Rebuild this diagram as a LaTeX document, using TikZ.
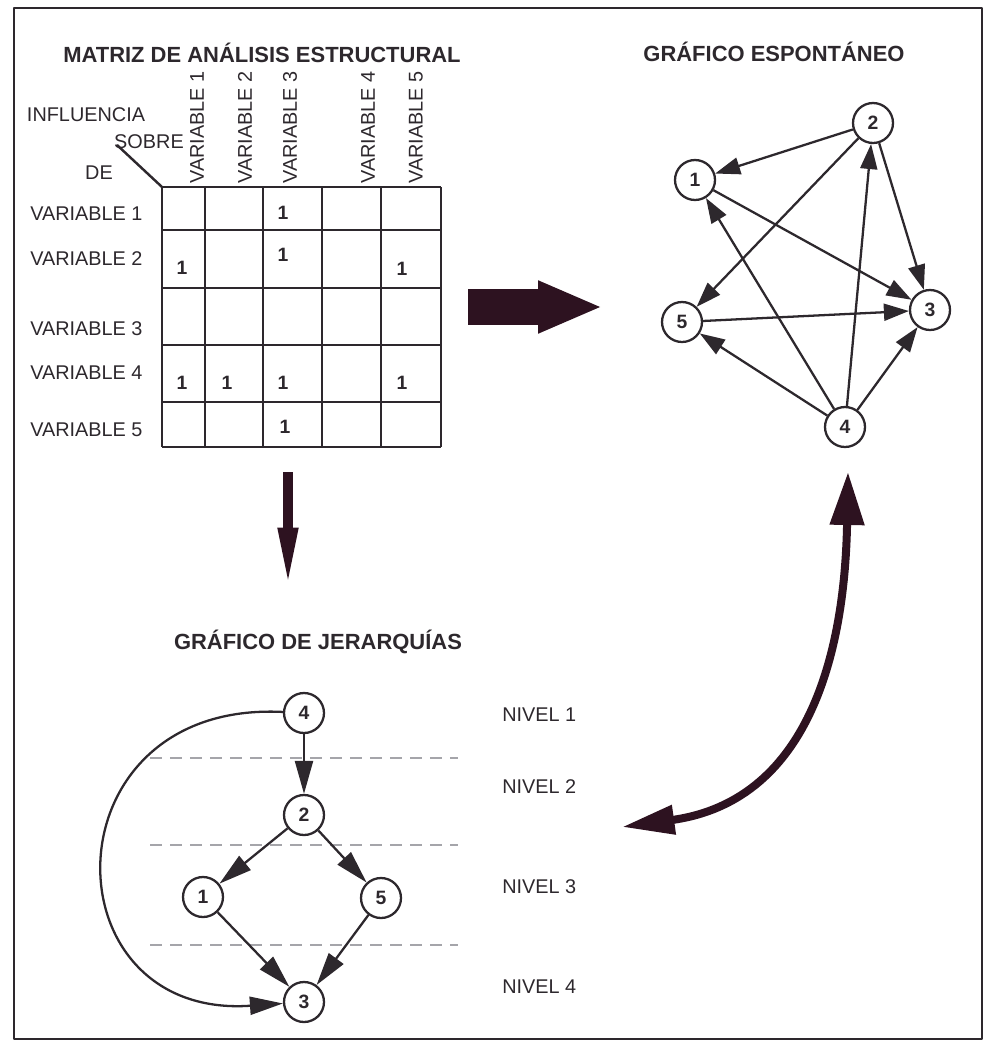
\documentclass[tikz,border=0pt]{standalone}
\usepackage{fontspec}
\setmainfont{Liberation Sans}
\usetikzlibrary{arrows.meta}
\definecolor{ink}{RGB}{45,40,45}
\definecolor{heavy}{RGB}{45,18,32}
\definecolor{dashgray}{RGB}{165,165,170}
\begin{document}
\begin{tikzpicture}[x=0.02cm, y=-0.02cm, line join=round,
	txt/.style={font=\fontsize{11.3}{13}\selectfont, text=ink, inner sep=0},
	ttl/.style={font=\fontsize{12.5}{14}\selectfont\bfseries, text=ink, inner sep=0},
	one/.style={font=\fontsize{11}{13}\selectfont\bfseries, text=ink, inner sep=0},
	vtx/.style={circle, draw=ink, line width=1.3pt, fill=white, minimum size=0.8cm,
		inner sep=0, font=\fontsize{11}{13}\selectfont\bfseries, text=ink},
	link/.style={-{Triangle[length=0.5cm, width=0.34cm]}, line width=1.3pt, draw=ink},
	hlink/.style={-{Triangle[length=0.66cm, width=0.36cm]}, line width=1.3pt, draw=ink},
	tier/.style={draw=dashgray, line width=0.8pt, dash pattern=on 0.24cm off 0.16cm}]
	\useasboundingbox (0,0) rectangle (988,1041);
	\draw[ink, line width=1.2pt] (14,8) rectangle (982,1039);

	% matriz
	\node[ttl] (tmatriz) at (262,53) {MATRIZ DE ANÁLISIS ESTRUCTURAL};
	\foreach \x in {162,205,263,322,381,441} {\draw[ink, line width=1.4pt] (\x,187) -- (\x,447);}
	\foreach \y in {187,230,288,345,402,447} {\draw[ink, line width=1.4pt] (162,\y) -- (441,\y);}
	\coordinate (corner) at (162,187);
	\coordinate (slash) at (117,145);
	\draw[ink, line width=1.4pt] (corner) -- (slash);
	\node[txt] (influencia) at (86,115) {INFLUENCIA};
	\node[txt] (sobre) at (149,142) {SOBRE};
	\node[txt] (de) at (99,173) {DE};
	\foreach \n/\y in {1/214,2/259,3/329,4/373,5/430}
	{\node[txt, anchor=west] (row\n) at (30,\y) {VARIABLE \n};}
	\foreach \n/\x in {1/197,2/245,3/290,4/368,5/416}
	{\node[txt, rotate=90, anchor=west] (col\n) at (\x,184) {VARIABLE \n};}
	\foreach \x/\y [count=\i] in {283/213,182/268,283/255,402/269,182/383,227/383,283/383,402/383,285/427}
	{\node[one] (one\i) at (\x,\y) {1};}

	% flechas gruesas
	\coordinate (rfrom) at (468,307);
	\coordinate (rto) at (603,307);
	\draw[heavy, line width=0.72cm, -{Triangle[length=1.3cm, width=0.96cm]}] (rfrom) -- (rto);
	\coordinate (dfrom) at (288,472);
	\coordinate (dto) at (288,590);
	\draw[heavy, line width=0.2cm, -{Triangle[length=1.25cm, width=0.36cm]}] (dfrom) -- (dto);
	\coordinate (cfrom) at (622,827);
	\coordinate (cto) at (848,472);
	\draw[heavy, line width=0.16cm, {Triangle[length=1.05cm, width=0.56cm]}-{Triangle[length=1.06cm, width=0.66cm]}]
		(cfrom) .. controls (815,800) and (845,640) .. (cto);

	% grafico espontaneo
	\node[ttl] (tesp) at (774,52) {GRÁFICO ESPONTÁNEO};
	\foreach \n/\x/\y in {1/695/180,2/873/123,3/930/310,4/845/427,5/682/322}
	{\node[vtx] (s\n) at (\x,\y) {\n};}
	\foreach \a/\b in {2/1,2/5,2/3,1/3,5/3,4/5,4/1,4/2,4/3}
	{\draw[link] (s\a) -- (s\b);}

	% grafico de jerarquias
	\node[ttl] (tjer) at (318,642) {GRÁFICO DE JERARQUÍAS};
	\foreach \y in {758,845,945} {\draw[tier] (150,\y) -- (458,\y);}
	\foreach \n/\y in {1/715,2/787,3/887,4/987}
	{\node[txt, anchor=west] (nivel\n) at (502,\y) {NIVEL \n};}
	\foreach \n/\x/\y in {4/304/713,2/304/815,1/203/897,5/381/898,3/304/1002}
	{\node[vtx] (h\n) at (\x,\y) {\n};}
	\foreach \a/\b in {4/2,2/1,2/5,1/3,5/3}
	{\draw[hlink] (h\a) -- (h\b);}
	\draw[hlink] (h4) .. controls (45,700) and (45,1020) .. (h3);
\end{tikzpicture}
\end{document}
